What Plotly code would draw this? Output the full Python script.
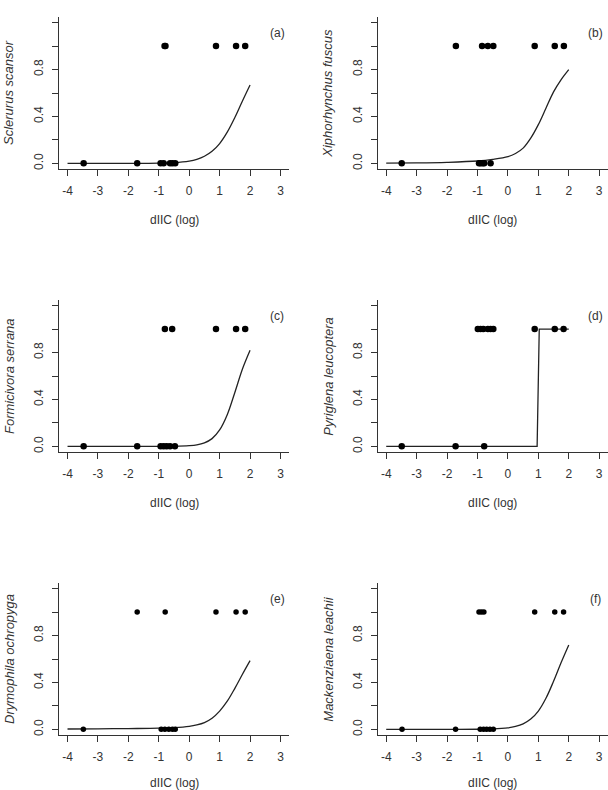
import plotly.graph_objects as go

# ---------------- data ----------------
species = ["Sclerurus scansor", "Xiphorhynchus fuscus", "Formicivora serrana",
           "Pyriglena leucoptera", "Drymophila ochropyga", "Mackenziaena leachii"]
panel_tags = ["(a)", "(b)", "(c)", "(d)", "(e)", "(f)"]

# observed absences (y = 0) and presences (y = 1), x = dIIC (log)
absent_a = [-3.47, -1.71, -0.94, -0.84, -0.63, -0.55, -0.46]
present_a = [-0.81, -0.78, 0.88, 1.54, 1.84]
absent_b = [-3.49, -0.95, -0.90, -0.83, -0.78, -0.57]
present_b = [-1.71, -0.85, -0.66, -0.48, 0.88, 1.54, 1.84]
absent_c = [-3.47, -1.71, -0.94, -0.84, -0.74, -0.63, -0.47]
present_c = [-0.80, -0.56, 0.88, 1.54, 1.84]
absent_d = [-3.49, -1.72, -0.78]
present_d = [-0.99, -0.90, -0.81, -0.66, -0.57, -0.48, 0.88, 1.54, 1.83]
absent_e = [-3.48, -0.92, -0.80, -0.67, -0.55, -0.46]
present_e = [-1.71, -0.79, 0.88, 1.54, 1.84]
absent_f = [-3.48, -1.72, -0.91, -0.80, -0.70, -0.59, -0.48]
present_f = [-0.95, -0.87, -0.79, 0.88, 1.54, 1.83]

# fitted probability curves
curve_x = [-4, -3, -2, -1, -0.5, 0, 0.25, 0.5, 0.75, 1, 1.25, 1.5, 1.75, 2]
curve_a = [0.0, 0.0, 0.0002, 0.0021, 0.0065, 0.020, 0.035, 0.061, 0.103, 0.169, 0.266, 0.391, 0.532, 0.668]
curve_b = [0.002, 0.004, 0.009, 0.020, 0.034, 0.057, 0.084, 0.130, 0.215, 0.330, 0.470, 0.610, 0.715, 0.800]
curve_c = [0.0, 0.0, 0.0, 0.0002, 0.001, 0.006, 0.013, 0.030, 0.066, 0.140, 0.270, 0.460, 0.660, 0.820]
curve_d_x = [-4, 0.96, 1.03, 2]
curve_d = [0.0, 0.0, 1.0, 1.0]
curve_e = [0.003, 0.005, 0.007, 0.010, 0.015, 0.026, 0.038, 0.058, 0.095, 0.156, 0.240, 0.350, 0.470, 0.586]
curve_f = [0.0, 0.0, 0.0001, 0.001, 0.0036, 0.013, 0.025, 0.047, 0.088, 0.156, 0.265, 0.410, 0.570, 0.720]

x_ticks = [-4, -3, -2, -1, 0, 1, 2, 3]
y_ticks = [0.0, 0.2, 0.4, 0.6, 0.8, 1.0, 1.2]
y_ticklabels = ["0.0", "", "0.4", "", "0.8", "", ""]
x_title = "dIIC (log)"

panels = [
    (absent_a, present_a, curve_x, curve_a, False),
    (absent_b, present_b, curve_x, curve_b, False),
    (absent_c, present_c, curve_x, curve_c, False),
    (absent_d, present_d, curve_d_x, curve_d, True),
    (absent_e, present_e, curve_x, curve_e, False),
    (absent_f, present_f, curve_x, curve_f, False),
]

# ---------------- layout geometry ----------------
W, H = 608, 790
col_left = [59.0, 377.7]
plot_w = 230.0
row_top = [17.0, 300.0, 583.0]
plot_h = 152.0

FONT = "Liberation Sans, Arial, sans-serif"
TXT = "#333333"
LINE = "#333333"

fig = go.Figure()
layout = dict(
    width=W, height=H,
    margin=dict(l=0, r=0, t=0, b=0),
    paper_bgcolor="white", plot_bgcolor="white",
    showlegend=False,
    font=dict(family=FONT, color=TXT, size=11),
)
annotations = []

for i, (ab, pr, cx, cy, step) in enumerate(panels):
    r, c = divmod(i, 2)
    k = "" if i == 0 else str(i + 1)
    x0 = col_left[c] / W
    x1 = min((col_left[c] + plot_w) / W, 1.0)
    y1 = 1 - row_top[r] / H
    y0 = 1 - (row_top[r] + plot_h) / H
    msize = 6.5 if r < 2 else 5.5

    fig.add_trace(go.Scatter(
        x=cx, y=cy, mode="lines",
        line=dict(color="#222222", width=1.3, shape="linear" if step else "spline"),
        xaxis="x" + k, yaxis="y" + k, hoverinfo="skip"))
    fig.add_trace(go.Scatter(
        x=ab, y=[0] * len(ab), mode="markers",
        marker=dict(color="black", size=msize),
        xaxis="x" + k, yaxis="y" + k))
    fig.add_trace(go.Scatter(
        x=pr, y=[1] * len(pr), mode="markers",
        marker=dict(color="black", size=msize),
        xaxis="x" + k, yaxis="y" + k))

    layout["xaxis" + k] = dict(
        domain=[x0, x1], anchor="y" + k, range=[-4.28, 3.28],
        tickmode="array", tickvals=x_ticks, ticktext=[str(v) for v in x_ticks],
        showline=True, linecolor=LINE, linewidth=1,
        ticks="outside", ticklen=6, tickcolor=LINE, tickwidth=1,
        ticklabelstandoff=5,
        showgrid=False, zeroline=False,
        tickfont=dict(family=FONT, size=12, color=TXT),
    )
    layout["yaxis" + k] = dict(
        domain=[y0, y1], anchor="x" + k, range=[-0.048, 1.248],
        tickmode="array", tickvals=y_ticks, ticktext=y_ticklabels,
        tickangle=-90,
        showline=True, linecolor=LINE, linewidth=1,
        ticks="outside", ticklen=6, tickcolor=LINE, tickwidth=1,
        ticklabelstandoff=4,
        showgrid=False, zeroline=False,
        tickfont=dict(family=FONT, size=12, color=TXT),
    )

    # y title (species, italic)
    annotations.append(dict(
        text="<i>" + species[i] + "</i>", textangle=-90,
        xref="paper", yref="paper", x=x0, y=(y0 + y1) / 2,
        xanchor="center", yanchor="middle", xshift=-50,
        showarrow=False, font=dict(family=FONT, size=13, color=TXT)))
    # x title
    annotations.append(dict(
        text=x_title, xref="paper", yref="paper", x=(x0 + x1) / 2, y=y0,
        xanchor="center", yanchor="middle", yshift=-51 if r < 2 else -48,
        showarrow=False, font=dict(family=FONT, size=12, color=TXT)))
    # panel tag
    annotations.append(dict(
        text=panel_tags[i], xref="x" + k + " domain", yref="y" + k + " domain",
        x=0.949, y=0.895, xanchor="center", yanchor="middle",
        showarrow=False, font=dict(family=FONT, size=12, color=TXT)))

layout["annotations"] = annotations
fig.update_layout(**layout)
# remove the browser's default body margin so the figure fills the window
fig.write_html("out.html",
               config={"displayModeBar": False},
               post_script="document.body.style.margin='0px';"
                           "document.body.style.overflow='hidden';")
